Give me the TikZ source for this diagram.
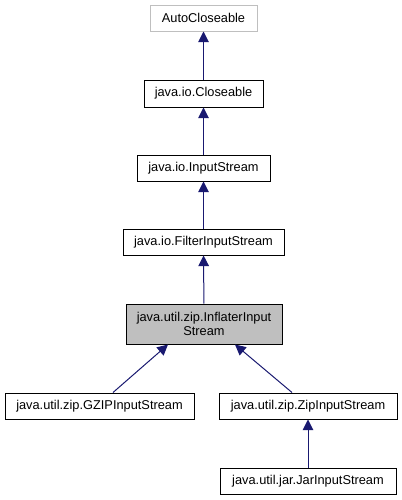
\documentclass[tikz,border=0pt]{standalone}
\usepackage{fontspec}
\setmainfont{Liberation Sans}
\usetikzlibrary{arrows.meta,calc}
\definecolor{edgeblue}{HTML}{191970}
\definecolor{grayfill}{HTML}{BFBFBF}
\definecolor{grayline}{HTML}{BFBFBF}
\begin{document}
\begin{tikzpicture}[x=0.75pt,y=-0.75pt,
  cls/.style={draw=black,line width=0.75pt,rectangle,inner sep=0pt,font=\fontsize{9.6pt}{10.5pt}\selectfont,align=center},
  ext/.style={cls,draw=grayline},
  cur/.style={cls,fill=grayfill},
  inh/.style={draw=edgeblue,line width=0.75pt,-{Triangle[length=8pt,width=8pt]},color=edgeblue}]
\useasboundingbox (0,0) rectangle (402,500);
\node[ext,minimum width=107*0.75pt,minimum height=26*0.75pt] (ac) at (203.5,18) {AutoCloseable};
\node[cls,minimum width=119*0.75pt,minimum height=27*0.75pt] (cl) at (203.5,93.5) {java.io.Closeable};
\node[cls,minimum width=133*0.75pt,minimum height=26*0.75pt] (is) at (203.5,168) {java.io.InputStream};
\node[cls,minimum width=161*0.75pt,minimum height=26*0.75pt] (fis) at (203.5,242) {java.io.FilterInputStream};
\node[cur,minimum width=156*0.75pt,minimum height=40*0.75pt] (iis) at (204,324) {java.util.zip.InflaterInput\\Stream};
\node[cls,minimum width=189*0.75pt,minimum height=26*0.75pt] (gz) at (99.5,406) {java.util.zip.GZIPInputStream};
\node[cls,minimum width=178*0.75pt,minimum height=26*0.75pt] (zip) at (308,406) {java.util.zip.ZipInputStream};
\node[cls,minimum width=176*0.75pt,minimum height=26*0.75pt] (jar) at (308,481) {java.util.jar.JarInputStream};
\draw[inh] (cl) -- (ac);
\draw[inh] (is) -- (cl);
\draw[inh] (fis) -- (is);
\draw[inh] (iis) -- (fis);
\coordinate (gzs) at ($(gz.north)+(13.5*0.75pt,0)$);
\coordinate (gze) at ($(iis.south)+(-36*0.75pt,0)$);
\coordinate (zs) at ($(zip.north)+(-16*0.75pt,0)$);
\coordinate (ze) at ($(iis.south)+(31*0.75pt,0)$);
\draw[inh] (gzs) -- (gze);
\draw[inh] (zs) -- (ze);
\draw[inh] (jar) -- (zip);
\end{tikzpicture}
\end{document}
